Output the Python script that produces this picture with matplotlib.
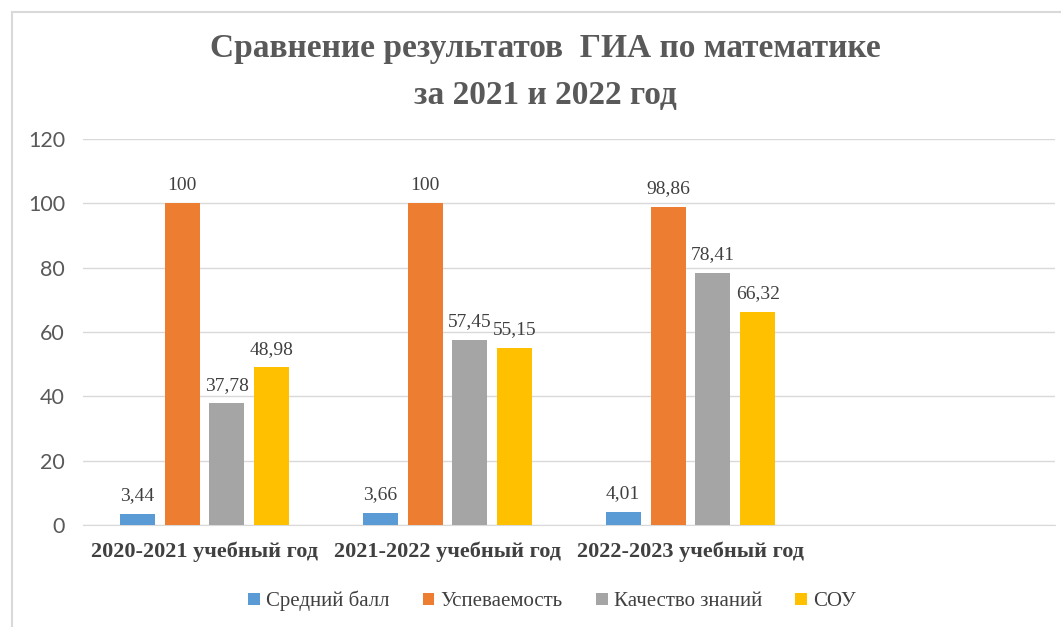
import matplotlib
matplotlib.use("Agg")
import matplotlib.pyplot as plt
from matplotlib.patches import Rectangle
import numpy as np

# данные
categories = ["2020-2021 учебный год", "2021-2022 учебный год", "2022-2023 учебный год", ""]
series_names = ["Средний балл", "Успеваемость", "Качество знаний", "СОУ"]
avg_score = [3.44, 3.66, 4.01]
progress = [100, 100, 98.86]
quality = [37.78, 57.45, 78.41]
sou = [48.98, 55.15, 66.32]
colors = ["#5B9BD5", "#ED7D31", "#A5A5A5", "#FFC000"]

serif = "Liberation Serif"
sans = "Lato"
text_col = "#404040"
plt.rcParams["font.family"] = [serif, "DejaVu Serif"]

fig = plt.figure(figsize=(10.61, 6.27), dpi=100)
# рамка диаграммы
fig.patches.append(Rectangle((12 / 1061, -0.01), 1.02, 1 - 12 / 627 + 0.01,
                             transform=fig.transFigure, fill=False,
                             edgecolor="#D9D9D9", linewidth=1.5))

ax = fig.add_axes([83 / 1061, 1 - 525 / 627, 972 / 1061, (525 - 139) / 627])

x = np.arange(len(categories))
step = 0.185
width = 0.144
for i, (vals, name, c) in enumerate(zip([avg_score, progress, quality, sou], series_names, colors)):
    pos = x[:len(vals)] + (i - 1.5) * step
    bars = ax.bar(pos, vals, width=width, color=c, label=name, zorder=3)
    for b, v in zip(bars, vals):
        txt = f"{v:g}".replace(".", ",")
        ax.annotate(txt, (b.get_x() + b.get_width() / 2, v), xytext=(0, 7),
                    textcoords="offset points", ha="center", va="bottom",
                    fontsize=14, color=text_col)

ax.set_xlim(-0.5, len(categories) - 0.5)
ax.set_ylim(0, 120)
ax.set_yticks(range(0, 121, 20))
ax.set_xticks(x)
ax.set_xticklabels(categories, fontsize=16, fontweight="bold", color=text_col)
for lbl in ax.get_yticklabels():
    lbl.set_family(sans)
    lbl.set_fontsize(15.5)
    lbl.set_color("#595959")
ax.tick_params(axis="both", length=0)
ax.tick_params(axis="y", pad=13)
ax.tick_params(axis="x", pad=12)
ax.grid(axis="y", color="#D9D9D9", linewidth=1, zorder=0)
for s in ["top", "right", "left"]:
    ax.spines[s].set_visible(False)
ax.spines["bottom"].set_color("#D9D9D9")

fig.text(545 / 1061, 1 - 49 / 627, "Сравнение результатов  ГИА по математике",
         ha="center", va="center", fontsize=24, fontweight="bold", color="#595959")
fig.text(545 / 1061, 1 - 95 / 627, "за 2021 и 2022 год",
         ha="center", va="center", fontsize=24, fontweight="bold", color="#595959")

leg = fig.legend(loc="center", bbox_to_anchor=(552 / 1061, 1 - 601 / 627), ncol=4,
                 frameon=False, handlelength=0.55, handleheight=0.55, handletextpad=0.3,
                 columnspacing=1.6, prop={"size": 15})
for t in leg.get_texts():
    t.set_color(text_col)

fig.savefig("out.png", dpi=100)
